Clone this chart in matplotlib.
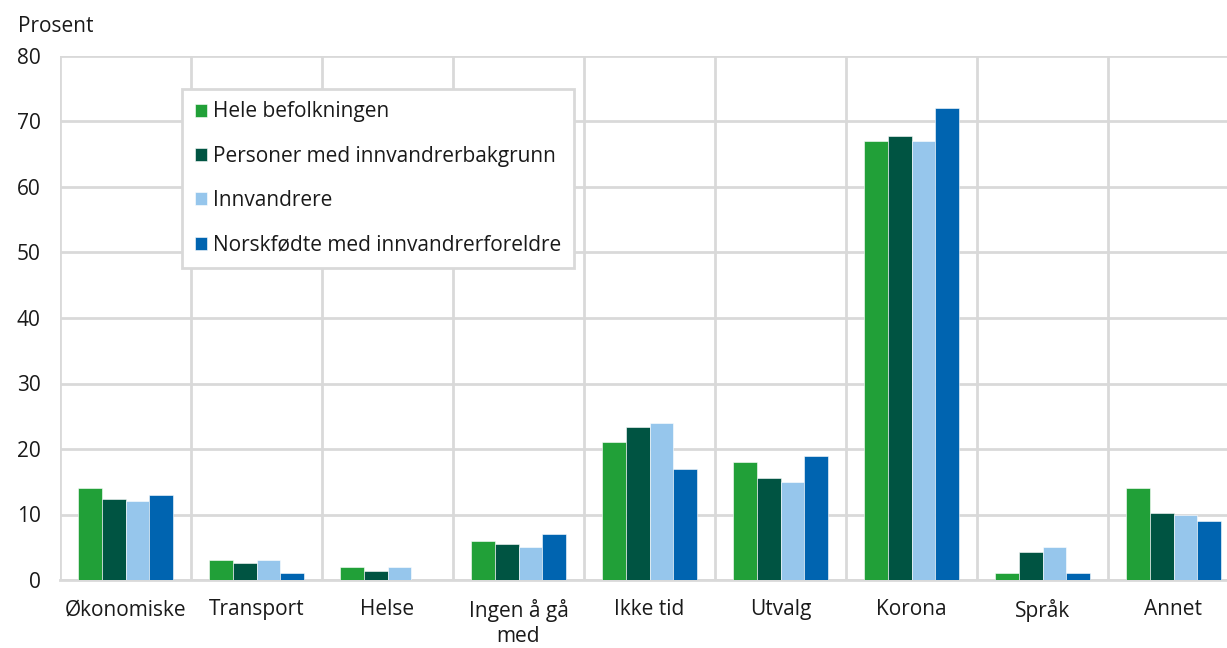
import matplotlib
matplotlib.use("Agg")
import matplotlib.pyplot as plt
import numpy as np

categories = ["Økonomiske", "Transport", "Helse", "Ingen å gå\nmed", "Ikke tid",
              "Utvalg", "Korona", "Språk", "Annet"]
series_names = ["Hele befolkningen", "Personer med innvandrerbakgrunn",
                "Innvandrere", "Norskfødte med innvandrerforeldre"]
hele = [14, 3, 2, 6, 21, 18, 67, 1, 14]
bakgrunn = [12.3, 2.6, 1.4, 5.5, 23.4, 15.6, 67.8, 4.2, 10.2]
innvandrere = [12, 3, 2, 5, 24, 15, 67, 5, 10]
norskfodte = [13, 1, 0, 7, 17, 19, 72, 1, 9]
yticks = [0, 10, 20, 30, 40, 50, 60, 70, 80]

colors = ["#21a038", "#005442", "#96c6ec", "#0064b0"]
GRID = "#d9d9d9"
TXT = "#1a1a1a"
FS = 15

plt.rcParams["font.family"] = ["Open Sans", "DejaVu Sans"]

W, H = 1227, 648
fig = plt.figure(figsize=(W / 100, H / 100), dpi=100)
left, right, top, bottom = 60, 1239, 56, 580
ax = fig.add_axes([left / W, 1 - bottom / H, (right - left) / W, (bottom - top) / H])

x = np.arange(len(categories))
bw = 0.183
for i, (vals, name) in enumerate(zip([hele, bakgrunn, innvandrere, norskfodte], series_names)):
    ax.bar(x + (i - 1.5) * bw, vals, bw, color=colors[i], label=name,
           edgecolor="white", linewidth=0.4, zorder=3)

ax.set_xlim(-0.5, len(categories) - 0.5)
ax.set_ylim(0, 80)
ax.set_yticks(yticks)
ax.set_xticks(x)
ax.set_xticklabels(categories, fontsize=FS, color=TXT, linespacing=1.2)
ax.tick_params(axis="y", labelsize=FS, colors=TXT, length=0, pad=14)
ax.tick_params(axis="x", length=0, pad=14)

ax.yaxis.grid(True, color=GRID, linewidth=2, zorder=0)
for b in np.arange(-0.5, len(categories) + 0.5, 1.0):
    ax.axvline(b, color=GRID, linewidth=2, zorder=0)
for s in ["top", "right", "left"]:
    ax.spines[s].set_visible(False)
ax.spines["bottom"].set_color(GRID)
ax.spines["bottom"].set_linewidth(2)

fig.text(18 / W, 1 - 26 / H, "Prosent", fontsize=FS, color=TXT, va="center", ha="left")

leg = ax.legend(loc="upper left",
                bbox_to_anchor=((182 - left) / (right - left), (bottom - 89) / (bottom - top)),
                fontsize=FS, frameon=True, fancybox=False, handlelength=0.6, handleheight=0.6,
                handletextpad=0.3, labelspacing=1.12, borderpad=0.6, borderaxespad=0)
leg.get_frame().set_edgecolor(GRID)
leg.get_frame().set_linewidth(2)
leg.get_frame().set_alpha(1)
for t in leg.get_texts():
    t.set_color(TXT)

fig.savefig("out.png", dpi=100, facecolor="white")
